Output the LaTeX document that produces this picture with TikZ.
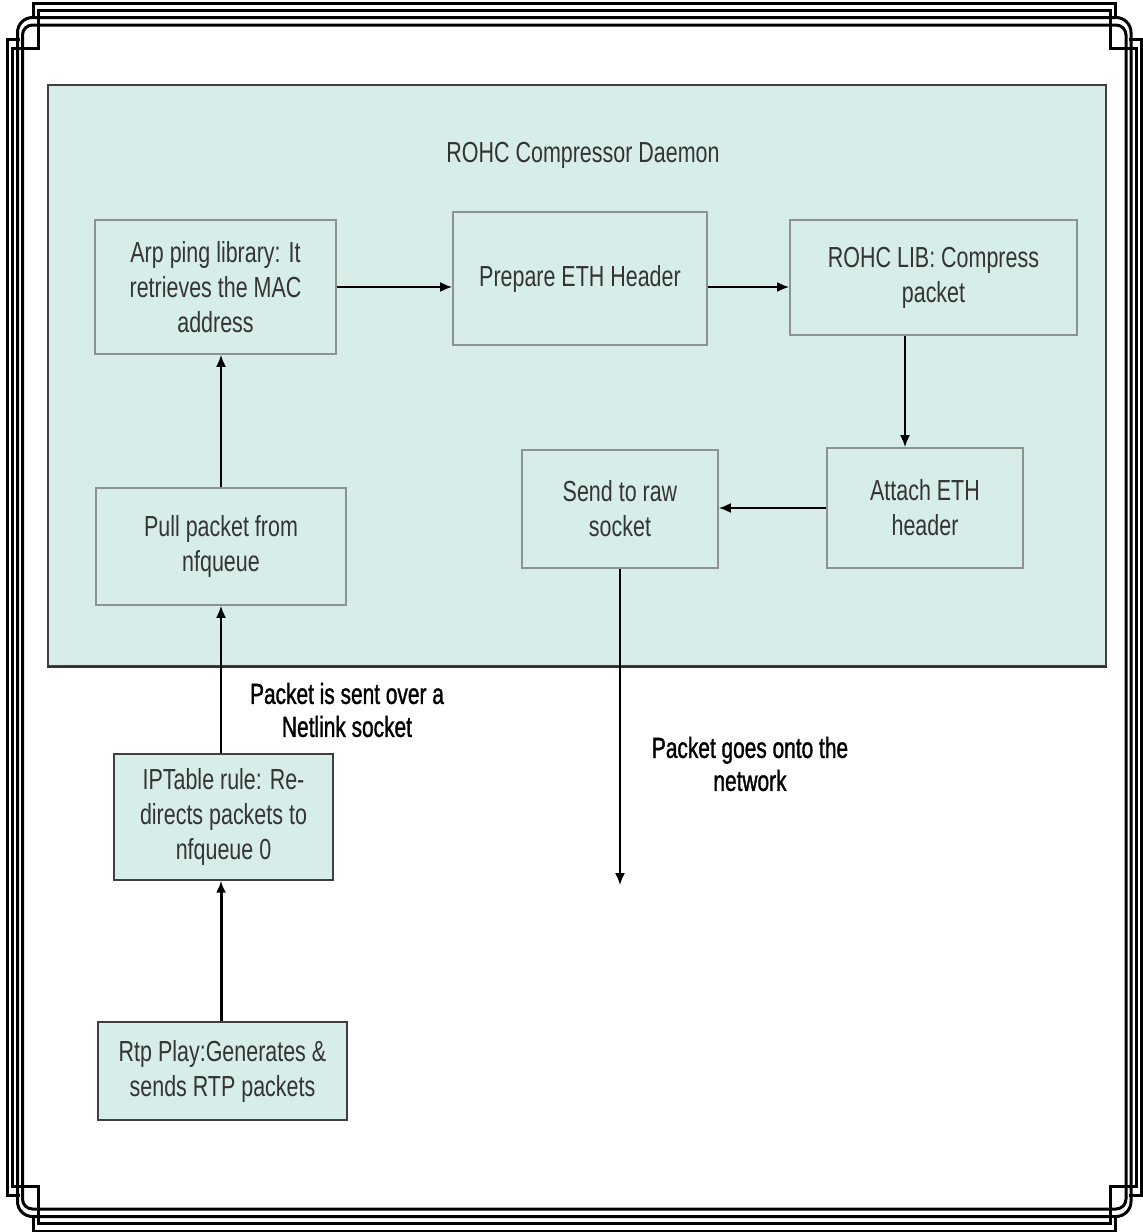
\documentclass[tikz,border=0pt]{standalone}
\usepackage{fontspec}
\setmainfont{Liberation Sans}[FakeStretch=0.74]
\newfontfamily\notefont{Liberation Sans}[FakeStretch=0.72,FakeBold=1.2]
\usetikzlibrary{arrows.meta}
\definecolor{panel}{HTML}{D6EDEA}
\definecolor{boxline}{HTML}{8E9392}
\definecolor{ink}{HTML}{343434}
\tikzset{
  box/.style={draw=boxline, line width=0.9pt, fill=panel, inner sep=0pt,
    align=center, text=ink, font=\fontsize{14.5}{17.5}\selectfont},
  outbox/.style={box, draw=black!75, line width=0.7pt},
  flow/.style={draw=black, line width=0.9pt, -{Latex[length=6pt,width=5pt]}},
  note/.style={align=center, text=black, font=\notefont\fontsize{14.5}{16.5}\selectfont},
  frameline/.style={line width=1.5pt},
}
\begin{document}
\begin{tikzpicture}[x=0.5pt,y=-0.5pt]
\useasboundingbox (0,0) rectangle (1143,1232);

% page border: two square-notched lines and two rounded lines
\draw[frameline] (20,39) -- (7,39) -- (7,1195) -- (20,1195);
\draw[frameline] (1128.5,39) -- (1141.5,39) -- (1141.5,1195) -- (1128.5,1195);
\draw[frameline] (33,17) -- (33,3) -- (1115.5,3) -- (1115.5,17);
\draw[frameline] (33,1217) -- (33,1231) -- (1115.5,1231) -- (1115.5,1217);
\draw[frameline] (38,10.5) -- (1110.5,10.5) -- (1110.5,48) -- (1136,48) -- (1136,1186)
  -- (1110.5,1186) -- (1110.5,1223.5) -- (38,1223.5) -- (38,1186) -- (12.5,1186)
  -- (12.5,48) -- (38,48) -- cycle;
\draw[frameline, rounded corners=7.5pt] (17.5,17.5) rectangle (1131,1216.5);
\draw[frameline, rounded corners=5pt] (22.5,25) rectangle (1126,1209);

% daemon panel
\node[draw=black!75, line width=0.6pt, fill=panel, inner sep=0pt,
  minimum width=529pt, minimum height=290.5pt] (daemon) at (577,375.5) {};
\draw[line width=1pt, black!80] (daemon.south west) -- (daemon.south east);
\node[text=ink, font=\fontsize{14.5}{17.5}\selectfont] (title) at (583,155) {ROHC Compressor Daemon};

% processing steps
\node[box, minimum width=120.5pt, minimum height=67pt] (arp) at (215.5,287)
  {Arp ping library: It\\retrieves the MAC\\address};
\node[box, minimum width=127pt, minimum height=66.5pt] (prep) at (580,278.5)
  {Prepare ETH Header};
\node[box, minimum width=143.5pt, minimum height=57.5pt] (rohc) at (933.5,277.5)
  {ROHC LIB: Compress\\packet};
\node[box, minimum width=98pt, minimum height=60pt] (attach) at (925,508)
  {Attach ETH\\header};
\node[box, minimum width=98pt, minimum height=59pt] (send) at (620,509)
  {Send to raw\\socket};
\node[box, minimum width=125pt, minimum height=58.5pt] (pull) at (221,546.5)
  {Pull packet from\\nfqueue};
\node[outbox, minimum width=109.5pt, minimum height=63pt] (ipt) at (223.5,817)
  {IPTable rule: Re-\\directs packets to\\nfqueue 0};
\node[outbox, minimum width=124.5pt, minimum height=49pt] (rtp) at (222.5,1071)
  {Rtp Play:Generates \&\\sends RTP packets};

\coordinate (down) at (905,0);
\coordinate (net) at (620,885);

% connectors
\draw[flow] (arp.east) -- (prep.west |- arp.east);
\draw[flow] (prep.east |- arp.east) -- (rohc.west |- arp.east);
\draw[flow] (rohc.south -| down) -- (attach.north -| down);
\draw[flow] (attach.west) -- (send.east |- attach.west);
\draw[flow] (pull.north) -- (arp.south -| pull.north);
\draw[flow] (ipt.north -| pull.north) -- (pull.south);
\draw[flow, line width=1.5pt] (rtp.north -| pull.north) -- (ipt.south -| pull.north);
\draw[flow] (send.south) -- (net);

% connector notes
\node[note] (netlink) at (347,710) {Packet is sent over a\\Netlink socket};
\node[note] (wire) at (750,764) {Packet goes onto the\\network};
\end{tikzpicture}
\end{document}
